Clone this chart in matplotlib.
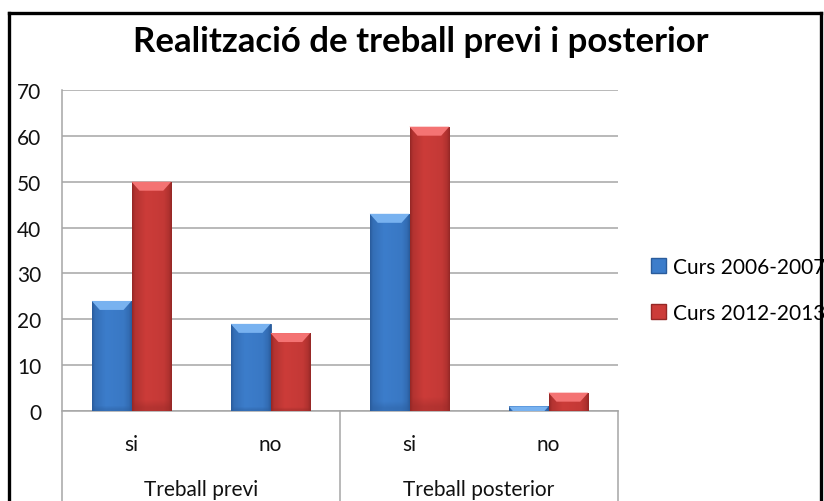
import numpy as np
import matplotlib
matplotlib.use("Agg")
import matplotlib.pyplot as plt
from matplotlib.patches import Polygon, Patch
from matplotlib.lines import Line2D
from matplotlib.colors import to_rgb

plt.rcParams['font.family'] = ['Lato', 'DejaVu Sans']

title = "Realització de treball previ i posterior"
sub_labels = ["si", "no", "si", "no"]
group_labels = ["Treball previ", "Treball posterior"]
series_names = ["Curs 2006-2007", "Curs 2012-2013"]
values_2006 = [24, 19, 43, 1]
values_2012 = [50, 17, 62, 4]
yticks = [0, 10, 20, 30, 40, 50, 60, 70]

blue = dict(main="#3C7DCB", dark="#2A5C9C", light="#78B2F0")
red = dict(main="#CC3C39", dark="#952826", light="#F47373")

FS = 15

W, H = 824, 502
fig = plt.figure(figsize=(W / 100, H / 100), dpi=100)
ax_l, ax_r, ax_b, ax_t = 62 / W, 618 / W, (H - 412) / H, (H - 91) / H
ax = fig.add_axes([ax_l, ax_b, ax_r - ax_l, ax_t - ax_b])

ax.set_xlim(-0.5, 3.5)
ax.set_ylim(0, 70)
ax_px_w = (ax_r - ax_l) * W
ax_px_h = (ax_t - ax_b) * H
px_x = ax_px_w / 4.0   # pixels per x unit
px_y = ax_px_h / 70.0  # pixels per y unit

bw = 1 / 3.5
x = np.arange(len(sub_labels))


def fancy(bars, col):
    cm, cd = np.array(to_rgb(col["main"])), np.array(to_rgb(col["dark"]))
    for b in bars:
        x0, w, h = b.get_x(), b.get_width(), b.get_height()
        if h <= 0:
            continue
        t = np.linspace(0, 1, 60)
        prof = np.interp(t, [0, 0.07, 0.35, 0.8, 0.93, 1], [0.0, 0.55, 1.0, 0.85, 0.5, 0.0])
        rows = np.linspace(0, 1, 30)
        vprof = np.interp(rows, [0, 0.03, 1], [0.6, 1.0, 1.0])
        arr = np.zeros((30, 60, 3))
        for i, vp in enumerate(vprof):
            f = (prof * vp)[:, None]
            arr[i] = cd + (cm - cd) * f
        im = ax.imshow(arr, extent=(x0, x0 + w, 0, h), aspect='auto', origin='lower',
                       zorder=3, interpolation='bilinear')
        im.set_clip_path(b)
        dy = min(9 / px_y, h)
        dx = min(8 / px_x, w / 2)
        if h * px_y < 9:
            dx = dx * (h * px_y) / 9
        poly = Polygon([(x0, h), (x0 + w, h), (x0 + w - dx, h - dy), (x0 + dx, h - dy)],
                       closed=True, facecolor=col["light"], edgecolor='none', zorder=4)
        ax.add_patch(poly)
        b.set_zorder(2)


bars1 = ax.bar(x - bw / 2, values_2006, bw, color=blue["main"], edgecolor=blue["dark"], linewidth=0.6, zorder=2)
bars2 = ax.bar(x + bw / 2, values_2012, bw, color=red["main"], edgecolor=red["dark"], linewidth=0.6, zorder=2)
fancy(bars1, blue)
fancy(bars2, red)
ax.set_xlim(-0.5, 3.5)
ax.set_ylim(0, 70)

ax.set_yticks(yticks)
ax.set_yticklabels([str(v) for v in yticks], fontsize=FS, color="#111111")
ax.tick_params(axis='y', length=0, pad=15)
ax.set_xticks([])
ax.yaxis.grid(True, color="#A6A6A6", linewidth=1.1)
ax.set_axisbelow(True)
for s in ["top", "right", "left"]:
    ax.spines[s].set_visible(False)
ax.spines["bottom"].set_color("#A6A6A6")
ax.spines["bottom"].set_linewidth(1.1)

# category axis box
ybot = -ax_b / (ax_t - ax_b) - 0.02
for xv in [-0.5, 1.5, 3.5]:
    ax.add_line(Line2D([xv, xv], [1.0 if xv == -0.5 else 0, ybot],
                       transform=ax.get_xaxis_transform(), color="#A6A6A6",
                       linewidth=1.1, clip_on=False, zorder=1))
y_sub = ((H - 445) / H - ax_b) / (ax_t - ax_b)
y_grp = ((H - 490) / H - ax_b) / (ax_t - ax_b)
for xi, lab in zip(x, sub_labels):
    ax.text(xi, y_sub, lab, transform=ax.get_xaxis_transform(), ha='center', va='center',
            fontsize=FS, color="#111111")
for gi, lab in enumerate(group_labels):
    ax.text(gi * 2 + 0.5, y_grp, lab, transform=ax.get_xaxis_transform(), ha='center',
            va='center', fontsize=FS, color="#111111")

fig.text(0.511, (H - 42) / H, title, ha='center', va='center', fontsize=25,
         fontweight='bold', color="#000000")

handles = [Patch(facecolor=blue["main"], edgecolor=blue["dark"]),
           Patch(facecolor=red["main"], edgecolor=red["dark"])]
fig.legend(handles, series_names, loc='center left', bbox_to_anchor=(651 / W, (H - 291) / H),
           frameon=False, fontsize=FS, handlelength=0.7, handleheight=0.7,
           handletextpad=0.35, labelspacing=1.25, borderaxespad=0, borderpad=0)

# outer frame (left, top, right)
bx0, bx1, by = 9 / W, 821 / W, (H - 14) / H
for xs, ys in [([bx0, bx0], [-0.01, by]), ([bx0, bx1], [by, by]), ([bx1, bx1], [by, -0.01])]:
    fig.add_artist(Line2D(xs, ys, transform=fig.transFigure, color="black",
                          linewidth=2.4, solid_capstyle='projecting', zorder=10))

fig.savefig("out.png", dpi=100, facecolor="white")
